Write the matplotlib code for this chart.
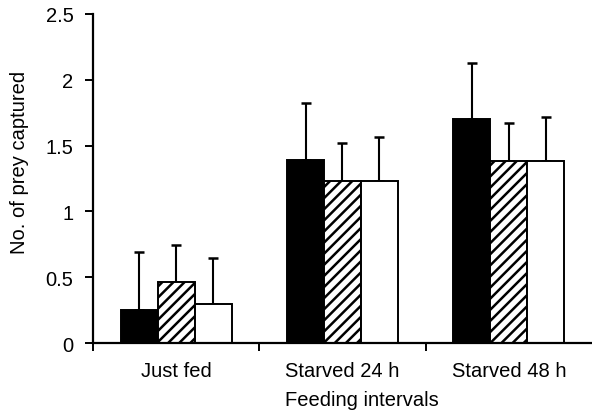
import matplotlib.pyplot as plt
import numpy as np

plt.rcParams['font.family'] = ['Liberation Sans', 'DejaVu Sans']
plt.rcParams['hatch.linewidth'] = 1.8

groups = ['Just fed', 'Starved 24 h', 'Starved 48 h']
black_vals = [0.25, 1.39, 1.70]
black_err = [0.44, 0.43, 0.43]
hatch_vals = [0.46, 1.23, 1.385]
hatch_err = [0.285, 0.29, 0.285]
white_vals = [0.30, 1.23, 1.385]
white_err = [0.345, 0.335, 0.335]

fig = plt.figure(figsize=(5.92, 4.14), dpi=100)
ax = fig.add_axes([0.157, 0.169, 0.843, 0.795])

x = np.arange(len(groups))
w = 0.222
series = [
    (black_vals, black_err, 'black', ''),
    (hatch_vals, hatch_err, 'white', '///'),
    (white_vals, white_err, 'white', ''),
]
for i, (vals, err, fc, h) in enumerate(series):
    pos = x + (i - 1) * w
    ax.bar(pos, vals, width=w, color=fc, edgecolor='black', linewidth=1.4, hatch=h, zorder=2)
    ax.errorbar(pos, vals, yerr=[np.zeros(len(vals)), err], fmt='none', ecolor='black',
                elinewidth=1.5, capsize=3.6, capthick=1.8, zorder=1)

ax.set_xlim(-0.5, 2.5)
ax.set_ylim(0, 2.5)
ax.set_yticks([0, 0.5, 1, 1.5, 2, 2.5])
ax.set_yticklabels(['0', '0.5', '1', '1.5', '2', '2.5'])
ax.set_xticks([-0.5, 0.5, 1.5])
ax.set_xticklabels([])
ax.set_xticks(x, minor=True)
ax.set_xticklabels(groups, minor=True)
ax.tick_params(axis='x', which='minor', length=0, pad=13, labelsize=14.5)
ax.tick_params(axis='x', which='major', length=6, width=1.4, direction='out')
ax.tick_params(axis='y', length=6, width=1.4, direction='out', labelsize=14.5, pad=8)

for s in ['top', 'right']:
    ax.spines[s].set_visible(False)
for s in ['left', 'bottom']:
    ax.spines[s].set_linewidth(1.6)

fig.text(20 / 592, 1 - 162 / 414, 'No. of prey captured', rotation=90,
         ha='center', va='center', fontsize=14.5)
fig.text(362 / 592, 1 - 406 / 414, 'Feeding intervals', ha='center',
         va='baseline', fontsize=14.5)

fig.savefig('out.png', dpi=100)
